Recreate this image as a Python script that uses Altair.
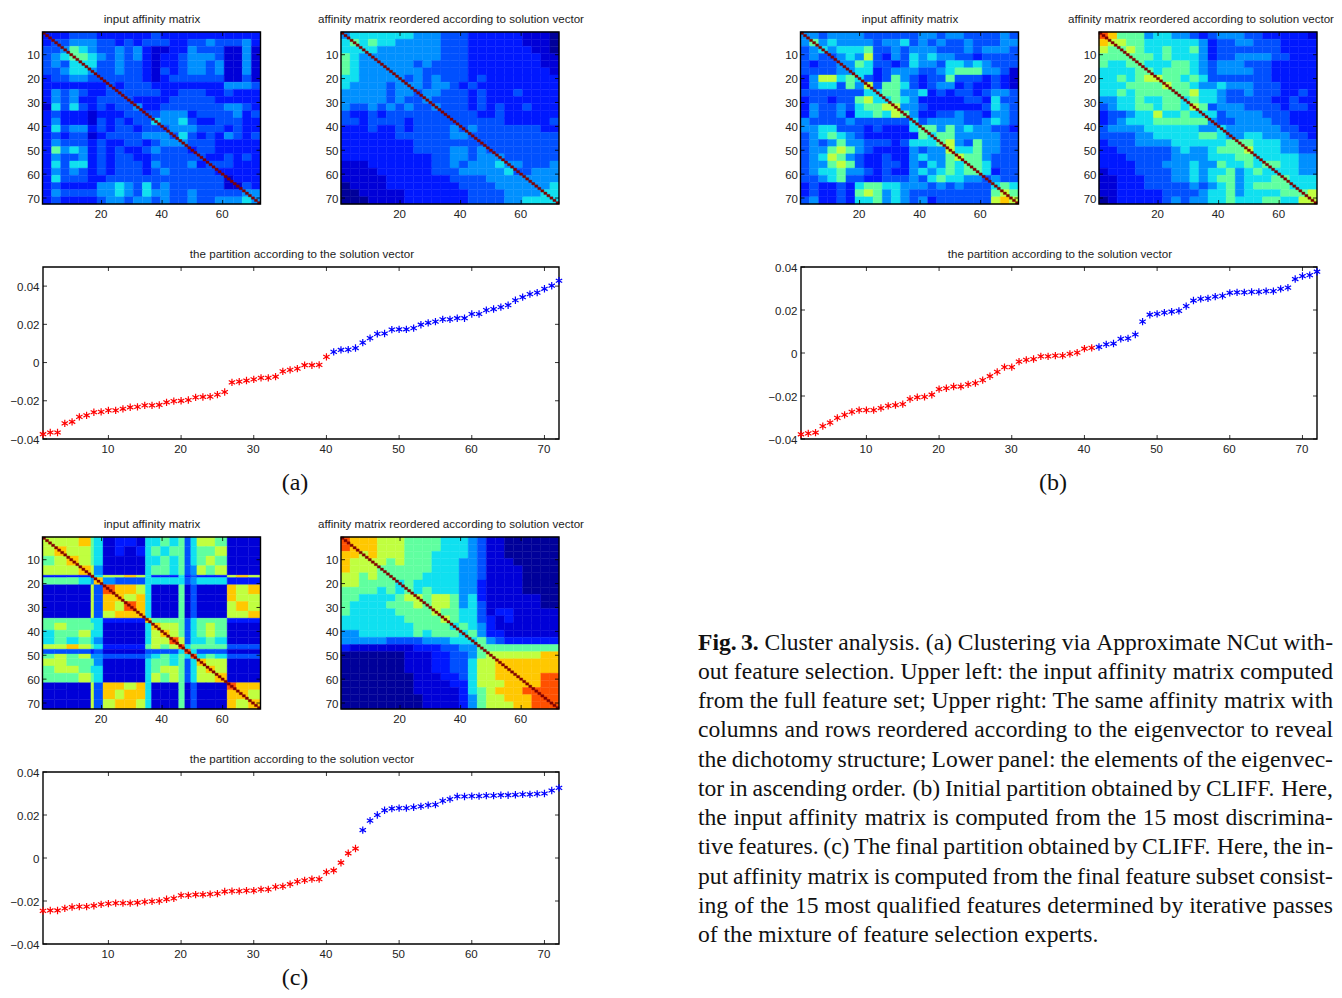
import altair as alt
import pandas as pd

X_TICKS_HEAT = [20, 40, 60]
Y_TICKS_HEAT = [10, 20, 30, 40, 50, 60, 70]
X_TICKS_LINE = [10, 20, 30, 40, 50, 60, 70]
Y_TICKS_LINE = [-0.04, -0.02, 0, 0.02, 0.04]

LEVEL_COLORS = ["#00009a", "#0000d8", "#0018ff", "#0050ff", "#0090ff", "#10e0f0",
                "#60ffa0", "#c0ff40", "#ffc800", "#ff5000", "#800000"]

UNIFORM_EDGES = list(range(0, 73, 3))
C1_EDGES = [0, 4, 8, 12, 16, 17, 20, 24, 27, 31, 34, 36, 39, 42, 45, 47, 49, 51, 54, 57, 61, 64, 68, 72]

A1 = ["222333222222322222222222", "233444332323332233433342", "334654334342112243331141",
      "345665434342122344431141", "343555334332122344341141", "334554334332132344341141",
      "233443333332123333331131", "222222232333222222224443", "243432233333322333223222",
      "243422333322223333322222", "153532323342233333334432", "232221222333344423333423",
      "242221323233544532233322", "253442323323334443332322", "232331233334443532324323",
      "243332322332344433322222", "264542323223433323322222", "243342323322333333223232",
      "253552323332433342333222", "243432323332343333322222", "253332233333333333331222",
      "232222445435343333331132", "243333445435443343333344", "232222344344343343344454"]
A2 = ["455555554443332222221110", "565655444443332222221110", "555544444443332222222110",
      "654444444443332222222211", "654444443433332222222211", "654444444333332222222221",
      "554444434343332322222222", "544443444344323222222222", "444443443443332322232222",
      "444443433433332322222222", "433434343343332323223222", "322323333333333223222222",
      "332333323333333333222223", "222322323333434333333322", "222222333333443333333333",
      "222222223333333333333333", "222222223333443433333333", "222222222233443444333333",
      "111222222233434445443334", "111122222233344444533444", "111112222222333344444444",
      "011112222222233334444445", "001111122222223333444455", "000111122222223333445555"]
B1 = ["443444433333344344333343", "464544443445343433433344", "345455563343444333434443",
      "343345473243545443323333", "323344653323544355454333", "333344552344433456664431",
      "247756532364323363332321", "245536473665323442322321", "333333355664452323323443",
      "233233675565422222332533", "243343566774432222223543", "243342556576422334332443",
      "433334333333534444334543", "445533323222566464544332", "345654322222265664444433",
      "343464433323555674364433", "344676432222434475564433", "345764322322454467664333",
      "344676322332435465665333", "345564432322454565665233", "334563322333435655443433",
      "232232566554443434333565", "232232676454333333333676", "342232556454342333333787"]
B2 = ["986664554432344433222221", "877665555554233443332222", "766765565564233333332222",
      "666666565554233444433222", "655665556654344433322222", "555566566654344443322222",
      "556567766565333333322222", "555666676654454443332222", "556566666675543343332232",
      "445565566565543333322322", "345566566576344433332332", "233455755655534444333222",
      "234555666666433444433222", "344445555554454444443322", "333344555556654455444332",
      "233344445555556665554433", "223333334544566675554433", "222333334444555665555544",
      "222233344454465565665544", "122233334454556456555544", "112223334454566455566555",
      "112223333343456456666555", "112222233334556455556667", "012222234344556555665577"]
C1 = ["7778651221" "5565635776" "111",
      "7877651212" "5656635667" "111",
      "6787651111" "5565635676" "111",
      "7778741111" "5665634767" "111",
      "2222957787" "5222523222" "787",
      "6665484333" "5555534555" "222",
      "1111739887" "5111613111" "878",
      "1111738878" "5111613111" "877",
      "1111738798" "5111613111" "787",
      "1111737888" "5111613111" "778",
      "6666552222" "8666635666" "222",
      "6766651111" "5877635676" "111",
      "5667551111" "5787635676" "111",
      "5656541111" "5779735565" "111",
      "7787652222" "6767956666" "333",
      "3333231111" "3333595333" "111",
      "6767443333" "4565659565" "333",
      "7766641111" "5665635877" "111",
      "6776551111" "5677635787" "111",
      "6667651111" "5767635778" "111",
      "1111738878" "5111613111" "988",
      "1111738788" "5111613111" "887",
      "1111737887" "5111613111" "878"]
C2 = ["988877766665554311000000", "988877766665554311000000", "887877766655554311000000",
      "877776766655544311100000", "877766666655544311110000", "776766666555544311110000",
      "776666565555544211110000", "666656565655544211110000", "665555677677645211111100",
      "655556667677645311111100", "655555666676655312211111", "555555566667655321211111",
      "555555556666565421111111", "445555556566656422111111", "444443333444555643222222",
      "211111112223344666666666", "000000011122334677777788", "000000011122335778888888",
      "000000011122335778888888", "000000001112235778888899", "000000001111225777888899",
      "000000001111125678889999", "000000000111124677888999", "000000000111124677788999"]

LINE_A = [-.0375, -.0366, -.0366, -.0318, -.0310, -.0284, -.0276, -.0260, -.0258, -.0250, -.0250, -.0242,
          -.0234, -.0232, -.0224, -.0224, -.0222, -.0208, -.0202, -.0200, -.0196, -.0182, -.0180, -.0178,
          -.0168, -.0154, -.0104, -.0100, -.0094, -.0088, -.0080, -.0080, -.0074, -.0046, -.0038, -.0032,
          -.0014, -.0014, -.0012, .0030, .0056, .0066, .0068, .0076, .0104, .0128, .0150, .0152,
          .0172, .0174, .0174, .0180, .0198, .0208, .0214, .0226, .0226, .0232, .0232, .0254,
          .0254, .0274, .0280, .0290, .0300, .0326, .0342, .0358, .0366, .0386, .0402, .0428]
LINE_B = [-.0378, -.0374, -.0370, -.0340, -.0324, -.0302, -.0288, -.0274, -.0266, -.0266, -.0266, -.0256,
          -.0246, -.0242, -.0238, -.0214, -.0206, -.0204, -.0194, -.0168, -.0164, -.0156, -.0156, -.0146,
          -.0140, -.0126, -.0108, -.0088, -.0066, -.0066, -.0040, -.0032, -.0028, -.0016, -.0016, -.0012,
          -.0012, -.0004, .0002, .0020, .0024, .0028, .0040, .0044, .0066, .0068, .0086, .0146,
          .0178, .0182, .0188, .0192, .0196, .0218, .0244, .0252, .0254, .0262, .0266, .0280,
          .0282, .0282, .0284, .0284, .0288, .0288, .0298, .0304, .0344, .0358, .0362, .0378]
LINE_C = [-.0246, -.0244, -.0244, -.0234, -.0228, -.0226, -.0226, -.0222, -.0216, -.0212, -.0210, -.0210,
          -.0210, -.0208, -.0204, -.0202, -.0200, -.0192, -.0188, -.0174, -.0174, -.0170, -.0170, -.0168,
          -.0166, -.0156, -.0154, -.0154, -.0152, -.0152, -.0146, -.0146, -.0134, -.0132, -.0122, -.0110,
          -.0104, -.0098, -.0098, -.0066, -.0058, -.0022, .0022, .0044, .0130, .0174, .0200, .0222,
          .0230, .0232, .0232, .0236, .0240, .0246, .0248, .0266, .0274, .0286, .0286, .0288,
          .0288, .0290, .0290, .0292, .0292, .0294, .0296, .0296, .0298, .0300, .0314, .0326]

CAPTION = ["Fig. 3. Cluster analysis. (a) Clustering via Approximate NCut with-",
           "out feature selection. Upper left: the input affinity matrix computed",
           "from the full feature set; Upper right: The same affinity matrix with",
           "columns and rows reordered according to the eigenvector to reveal",
           "the dichotomy structure; Lower panel: the elements of the eigenvec-",
           "tor in ascending order. (b) Initial partition obtained by CLIFF. Here,",
           "the input affinity matrix is computed from the 15 most discrimina-",
           "tive features. (c) The final partition obtained by CLIFF. Here, the in-",
           "put affinity matrix is computed from the final feature subset consist-",
           "ing of the 15 most qualified features determined by iterative passes",
           "of the mixture of feature selection experts."]

SANS = "Liberation Sans"
SERIF = "Liberation Serif"
INK = "#222222"
ONE = pd.DataFrame({"a": [0]})
VW, VH = 1326, 982      # whole drawing; it starts at page position (8, 8)
OX, OY = 8, 8
ASTERISK = "M0,-1L0,1M-0.87,-0.5L0.87,0.5M-0.87,0.5L0.87,-0.5"


def frame(x0, x1, y0, y1):
    return alt.Chart(ONE).mark_rect(filled=False, stroke="#000000", strokeWidth=1.4).encode(
        x=alt.value(x0 - OX), x2=alt.value(x1 - OX), y=alt.value(y0 - OY), y2=alt.value(y1 - OY))


def label(text, x, y, size=11.6, font=SANS, color=INK):
    return alt.Chart(ONE).mark_text(text=text, font=font, fontSize=size, color=color, align="center",
                                    baseline="middle").encode(x=alt.value(x - OX), y=alt.value(y - OY))


def inward_ticks(xt, yt, xdom, ydom, x0, x1, y0, y1):
    n = 4
    out = []
    xd, yd = pd.DataFrame({"v": xt}), pd.DataFrame({"v": yt})
    xs = alt.Scale(domain=xdom, range=[x0 - OX, x1 - OX], nice=False, zero=False)
    ys = alt.Scale(domain=ydom, range=[y1 - OY, y0 - OY], nice=False, zero=False)
    for a, b in ((y0, y0 + n), (y1 - n, y1)):
        out.append(alt.Chart(xd).mark_rule(color="#000000", strokeWidth=0.8).encode(
            x=alt.X("v:Q", scale=xs, axis=None), y=alt.value(a - OY), y2=alt.value(b - OY)))
    for a, b in ((x0, x0 + n), (x1 - n, x1)):
        out.append(alt.Chart(yd).mark_rule(color="#000000", strokeWidth=0.8).encode(
            y=alt.Y("v:Q", scale=ys, axis=None), x=alt.value(a - OX), x2=alt.value(b - OX)))
    return out


def axis(values, orient, offset, pad, **kw):
    return alt.Axis(values=values, orient=orient, offset=offset, tickSize=0, domain=False, grid=False,
                    labelFont=SANS, labelFontSize=11.5, labelColor=INK, labelPadding=pad,
                    labelOffset=-1 if orient == "bottom" else 1, **kw)


def heat(rows, edges, title, tx, x0, x1, y0, y1):
    recs = []
    for r, row in enumerate(rows):
        for c, ch in enumerate(row):
            recs.append({"x0": edges[c] + .5, "x1": edges[c + 1] + .5,
                         "y0": edges[r] + .5, "y1": edges[r + 1] + .5, "v": int(ch)})
    diag = [{"x0": i + .5, "x1": i + 1.5, "y0": i + .5, "y1": i + 1.5, "v": 10} for i in range(72)]
    xdom, ydom = [.5, 72.5], [72.5, .5]
    xs = alt.Scale(domain=xdom, range=[x0 - OX, x1 - OX], nice=False, zero=False)
    ys = alt.Scale(domain=ydom, range=[y1 - OY, y0 - OY], nice=False, zero=False)
    col = alt.Scale(domain=list(range(11)), range=LEVEL_COLORS)

    def enc(ax):
        return dict(
            x=alt.X("x0:Q", scale=xs, title=None,
                    axis=axis(X_TICKS_HEAT, "bottom", -(VH - (y1 - OY)), 4, format="d") if ax else None),
            x2="x1:Q",
            y=alt.Y("y0:Q", scale=ys, title=None,
                    axis=axis(Y_TICKS_HEAT, "left", -(x0 - OX), 3, format="d") if ax else None),
            y2="y1:Q",
            color=alt.Color("v:Q", scale=col, legend=None),
            stroke=alt.Stroke("v:Q", scale=col, legend=None),
        )
    base = alt.Chart(pd.DataFrame(recs)).mark_rect(strokeWidth=0.4).encode(**enc(True))
    dia = alt.Chart(pd.DataFrame(diag)).mark_rect(strokeWidth=0.4).encode(**enc(False))
    return [base, dia] + inward_ticks(X_TICKS_HEAT, Y_TICKS_HEAT, xdom, ydom, x0, x1, y0, y1) + [
        frame(x0, x1, y0, y1), label(title, tx, y0 - 12)]


def line(vals, n_red, ydom, x0, x1, y0, y1):
    df = pd.DataFrame({"i": list(range(1, 73)), "v": vals,
                       "c": ["r" if i < n_red else "b" for i in range(72)]})
    xdom = [1, 72]
    xs = alt.Scale(domain=xdom, range=[x0 - OX, x1 - OX], nice=False, zero=False)
    ys = alt.Scale(domain=ydom, range=[y1 - OY, y0 - OY], nice=False, zero=False)
    pts = alt.Chart(df).mark_point(shape=ASTERISK, size=54, filled=False, strokeWidth=1.2, opacity=1).encode(
        x=alt.X("i:Q", scale=xs, title=None, axis=axis(X_TICKS_LINE, "bottom", -(VH - (y1 - OY)), 4, format="d")),
        y=alt.Y("v:Q", scale=ys, title=None,
                axis=axis(Y_TICKS_LINE, "left", -(x0 - OX), 4,
                          labelExpr="datum.value == 0 ? '0' : format(datum.value, '.2f')")),
        color=alt.Color("c:N", scale=alt.Scale(domain=["r", "b"], range=["#ff0000", "#0000ff"]), legend=None),
    )
    return inward_ticks(X_TICKS_LINE, Y_TICKS_LINE, xdom, ydom, x0, x1, y0, y1) + [
        frame(x0, x1, y0, y1), pts,
        label("the partition according to the solution vector", (x0 + x1) / 2 + 1, y0 - 12)]


WID = dict(zip("abcdefghijklmnopqrstuvwxyz", [444, 500, 444, 500, 444, 333, 500, 500, 278, 278, 500, 278, 778, 500, 500,
                                               500, 500, 333, 389, 278, 500, 500, 722, 500, 500, 444]))
WID.update(dict(zip("ABCDEFGHIJKLMNOPQRSTUVWXYZ", [722, 667, 667, 722, 611, 556, 722, 722, 333, 389, 722, 611, 889, 722, 722,
                                                    556, 722, 667, 556, 611, 722, 722, 944, 722, 722, 611])))
WID.update({".": 250, ",": 250, ":": 278, ";": 278, "-": 333, "(": 333, ")": 333, "1": 500, "3": 500, "5": 500})
FS = 23.6
TX0, TX1 = 698, 1333
TY0, TY1 = 642.5, 935


def caption():
    recs = []
    tw = TX1 - TX0
    for n, ln in enumerate(CAPTION):
        words = ln.split(" ")
        ws = [sum(WID[ch] for ch in w) * FS / 1000 for w in words]
        gap = (tw - sum(ws)) / (len(words) - 1) if n < len(CAPTION) - 1 else 250 * FS / 1000
        x = 0
        for j, (w, wd) in enumerate(zip(words, ws)):
            recs.append({"x": x, "line": n, "t": w, "bold": n == 0 and j < 2})
            x += wd + gap
    df = pd.DataFrame(recs)
    xs = alt.Scale(domain=[0, tw], range=[TX0 - OX, TX1 - OX], nice=False, zero=False)
    ys = alt.Scale(domain=[0, 10], range=[TY0 - OY, TY1 - OY], nice=False, zero=False)

    def lay(bold):
        return alt.Chart(df[df.bold == bold]).mark_text(font=SERIF, fontSize=FS, align="left", baseline="middle",
                                                        color="#111111", fontWeight="bold" if bold else "normal").encode(
            x=alt.X("x:Q", scale=xs, axis=None),
            y=alt.Y("line:Q", scale=ys, axis=None),
            text="t:N")
    return [lay(False), lay(True)]


layers = []
for (m1, e1, m2, e2, vals, nr, yd, cap, capy, xa, ya, yl, t2dx) in [
    (A1, UNIFORM_EDGES, A2, UNIFORM_EDGES, LINE_A, 40, [-0.04, 0.05], "(a)", 483, 42.5, 32, 267, 0),
    (B1, UNIFORM_EDGES, B2, UNIFORM_EDGES, LINE_B, 41, [-0.04, 0.04], "(b)", 483, 800.5, 32, 267, -8),
    (C1, C1_EDGES, C2, UNIFORM_EDGES, LINE_C, 44, [-0.04, 0.04], "(c)", 978, 42.5, 537, 772, 0),
]:
    layers += heat(m1, e1, "input affinity matrix", xa + 109.5, xa, xa + 218, ya, ya + 172)
    layers += heat(m2, e2, "affinity matrix reordered according to solution vector", xa + 408.5 + t2dx,
                   xa + 298.5, xa + 516.5, ya, ya + 172)
    layers += line(vals, nr, yd, xa + .5, xa + 516.5, yl, yl + 172)
    layers.append(label(cap, xa + 252.5, capy, size=24, font=SERIF, color="#111111"))
layers += caption()

chart = alt.layer(*layers).resolve_scale(
    x="independent", y="independent", color="independent", stroke="independent"
).resolve_axis(x="independent", y="independent").properties(
    width=VW, height=VH, padding=0, background="white",
    autosize=alt.AutoSizeParams(type="none", contains="padding")
).configure_view(stroke=None)

chart.save("out.html", embed_options={"renderer": "svg", "actions": False})
